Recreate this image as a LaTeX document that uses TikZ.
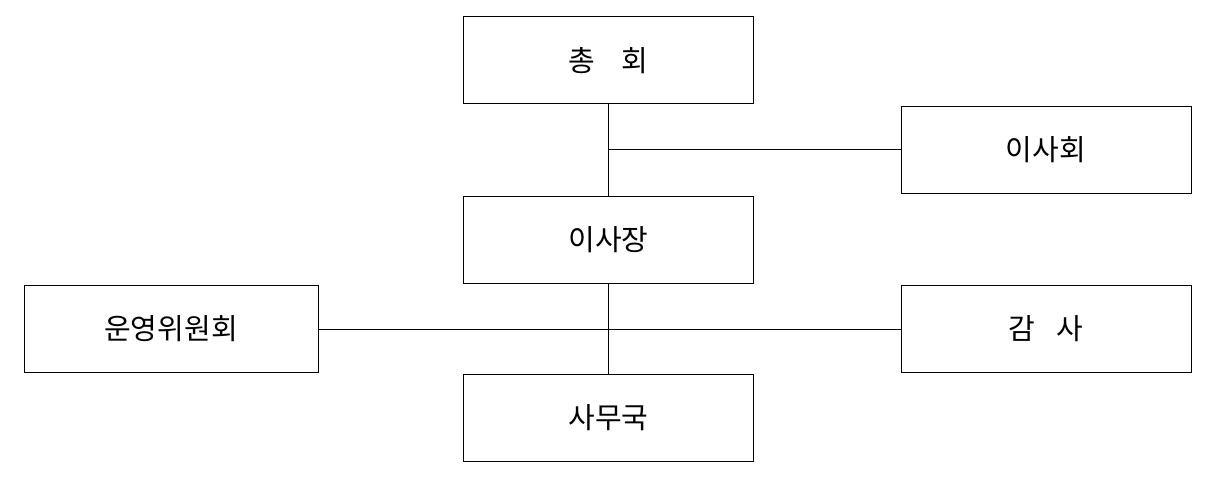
\documentclass[tikz,border=0pt]{standalone}
\usepackage{fontspec}
\newfontfamily\kr{Noto Sans CJK KR}
\usetikzlibrary{calc}

\begin{document}
\begin{tikzpicture}[x=1pt, y=1pt, font=\kr\fontsize{29}{34}\selectfont]
  \useasboundingbox (0, 0) rectangle (1216, -500);
  \tikzset{orgbox/.style={draw, line width=1pt, minimum width=290pt, minimum height=87pt, inner sep=0}}

  \node[orgbox]
    (assembly) at (608.5, -60.5) {총\hspace{26pt}회};

  \node[orgbox]
    (board) at (1046, -150) {이사회};

  \node[orgbox]
    (chair) at (608.5, -239.5) {이사장};

  \node[orgbox, minimum width=294pt]
    (ops) at (171, -329) {운영위원회};

  \node[orgbox]
    (audit) at (1046, -329) {감\hspace{22pt}사};

  \node[orgbox]
    (office) at (608.5, -417.5) {사무국};

  \coordinate (J1) at (608.5, -150);

  \draw[line width=1pt]
    (assembly) -- (chair)
    (J1)       -- (board.west);

  \draw[line width=1pt]
    (chair)    -- (office)
    (ops.east) -- (audit.west);
\end{tikzpicture}
\end{document}
